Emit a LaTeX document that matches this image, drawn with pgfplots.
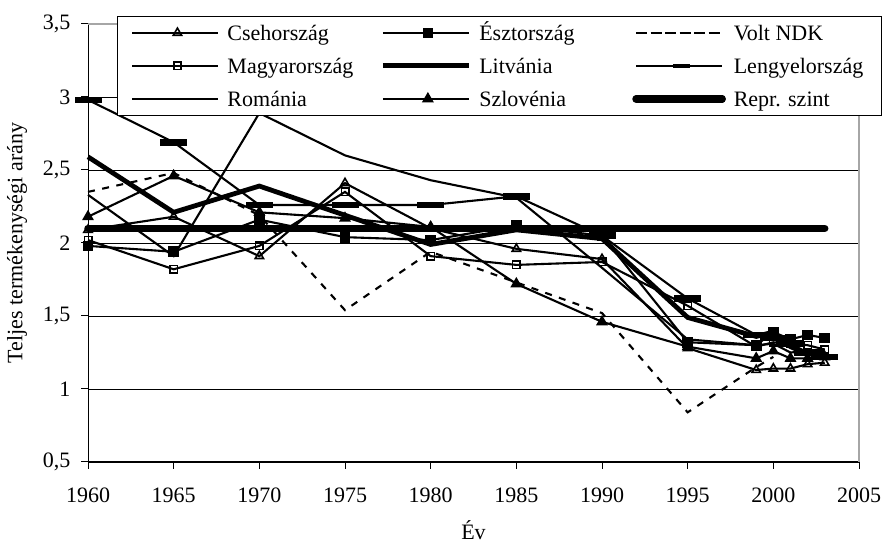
\documentclass[border=0pt]{standalone}
\usepackage{fontspec}
\setmainfont{Liberation Serif}
\usepackage{pgfplots}
\pgfplotsset{compat=1.18}

\newcommand{\lbl}{\rmfamily\fontsize{22}{26}\selectfont}

\begin{document}
\begin{tikzpicture}
\path[use as bounding box] (0pt,0pt) rectangle (883pt,545pt);
\begin{axis}[
  at={(88pt,83pt)}, anchor=south west,
  width=771pt, height=438pt, scale only axis,
  xmin=1960, xmax=2005, ymin=0.5, ymax=3.5,
  xtick={1960,1965,1970,1975,1980,1985,1990,1995,2000,2005},
  xticklabels={1960,1965,1970,1975,1980,1985,1990,1995,2000,2005},
  ytick={0.5,1,1.5,2,2.5,3,3.5},
  yticklabels={0{,}5,1,1{,}5,2,2{,}5,3,3{,}5},
  axis x line*=bottom, axis y line*=left,
  axis line style={black, line width=1pt},
  tick align=outside, major tick length=7pt,
  tick style={black, line width=1pt},
  ymajorgrids, major grid style={black, line width=0.8pt},
  clip=false,
  xticklabel style={font=\lbl, yshift=-15pt},
  yticklabel style={font=\lbl, xshift=-7pt},
  xlabel={Év},
  ylabel={Teljes termékenységi arány},
  every axis y label/.style={at={(axis description cs:-0.092,0.5)}, rotate=90, anchor=center, font=\lbl},
  every axis x label/.style={at={(axis description cs:0.5,-0.155)}, anchor=center, font=\lbl},
  legend columns=3,
  legend cell align=left,
  legend image code/.code={%
    \path (-4pt,0pt) -- (82pt,0pt);
    \draw[mark repeat=2,mark phase=2] plot coordinates {(0pt,0pt) (41pt,0pt) (82pt,0pt)};},
  legend style={at={(axis description cs:0.0376,1.0183)}, anchor=north west,
    draw=black, line width=0.8pt, fill=white,
    inner xsep=14pt, inner ysep=6.5pt, row sep=13pt,
    font=\lbl,
    nodes={inner xsep=4pt, inner ysep=0pt, text height=18pt, text depth=2pt},
    /tikz/every odd column/.append style={column sep=4pt}},
]
\draw[gray!70, line width=1.2pt] (rel axis cs:0,1) -- (rel axis cs:1,1) -- (rel axis cs:1,0);

% Csehország
\addplot[black, line width=2.1pt, mark=triangle, mark size=4.8pt,
  mark options={solid, fill=white, line width=1.6pt}] coordinates {
  (1960,2.09) (1965,2.18) (1970,1.91) (1975,2.41) (1980,2.10) (1985,1.96)
  (1990,1.89) (1995,1.28) (1999,1.13) (2000,1.14) (2001,1.14) (2002,1.17) (2003,1.18)};
\addlegendentry{\makebox[149pt][l]{Csehország}}
% Észtország
\addplot[black, line width=2.1pt, mark=square*, mark size=4.3pt,
  mark options={solid, fill=black}] coordinates {
  (1960,1.98) (1965,1.94) (1970,2.16) (1975,2.04) (1980,2.02) (1985,2.12)
  (1990,2.05) (1995,1.32) (1999,1.30) (2000,1.39) (2001,1.34) (2002,1.37) (2003,1.35)};
\addlegendentry{\makebox[149pt][l]{Észtország}}
% Volt NDK
\addplot[black, line width=2.1pt, dash pattern=on 7pt off 7.5pt] coordinates {
  (1960,2.35) (1965,2.48) (1970,2.19) (1975,1.54) (1980,1.94) (1985,1.73)
  (1990,1.52) (1995,0.84) (1999,1.15) (2000,1.22)};
\addlegendentry{Volt NDK}
% Magyarország
\addplot[black, line width=2.1pt, mark=square, mark size=3.7pt,
  mark options={solid, fill=white, line width=1.6pt}] coordinates {
  (1960,2.02) (1965,1.82) (1970,1.98) (1975,2.35) (1980,1.91) (1985,1.85)
  (1990,1.87) (1995,1.57) (1999,1.29) (2000,1.32) (2001,1.31) (2002,1.30) (2003,1.27)};
\addlegendentry{\makebox[149pt][l]{Magyarország}}
% Litvánia
\addplot[black, line width=4.8pt] coordinates {
  (1960,2.59) (1965,2.21) (1970,2.39) (1975,2.19) (1980,1.99) (1985,2.09)
  (1990,2.03) (1995,1.49) (1999,1.36) (2000,1.39) (2001,1.29) (2002,1.24) (2003,1.26)};
\addlegendentry{\makebox[149pt][l]{Litvánia}}
% Lengyelország
\addplot[black, line width=2.1pt, mark=-, mark size=13.5pt,
  mark options={solid, line width=6.5pt},
  legend image post style={mark size=8.5pt, mark options={solid, line width=4.5pt}}] coordinates {
  (1960,2.98) (1965,2.69) (1970,2.26) (1975,2.26) (1980,2.26) (1985,2.32)
  (1990,2.05) (1995,1.62) (1999,1.37) (2000,1.35) (2001,1.31) (2002,1.25) (2003,1.22)};
\addlegendentry{Lengyelország}
% Románia
\addplot[black, line width=2.1pt] coordinates {
  (1960,2.33) (1965,1.91) (1970,2.89) (1975,2.60) (1980,2.43) (1985,2.31)
  (1990,1.83) (1995,1.34) (1999,1.30) (2000,1.31) (2001,1.25) (2002,1.26) (2003,1.27)};
\addlegendentry{\makebox[149pt][l]{Románia}}
% Szlovénia
\addplot[black, line width=2.1pt, mark=triangle*, mark size=4.8pt,
  mark options={solid, fill=black}] coordinates {
  (1960,2.18) (1965,2.46) (1970,2.21) (1975,2.17) (1980,2.11) (1985,1.72)
  (1990,1.46) (1995,1.29) (1999,1.21) (2000,1.26) (2001,1.21) (2002,1.21) (2003,1.22)};
\addlegendentry{\makebox[149pt][l]{Szlovénia}}
% Repr. szint
\addplot[black, line width=7.5pt, line cap=round] coordinates {
  (1960,2.1) (2003,2.1)};
\addlegendentry{Repr. szint}
\end{axis}
\end{tikzpicture}
\end{document}
